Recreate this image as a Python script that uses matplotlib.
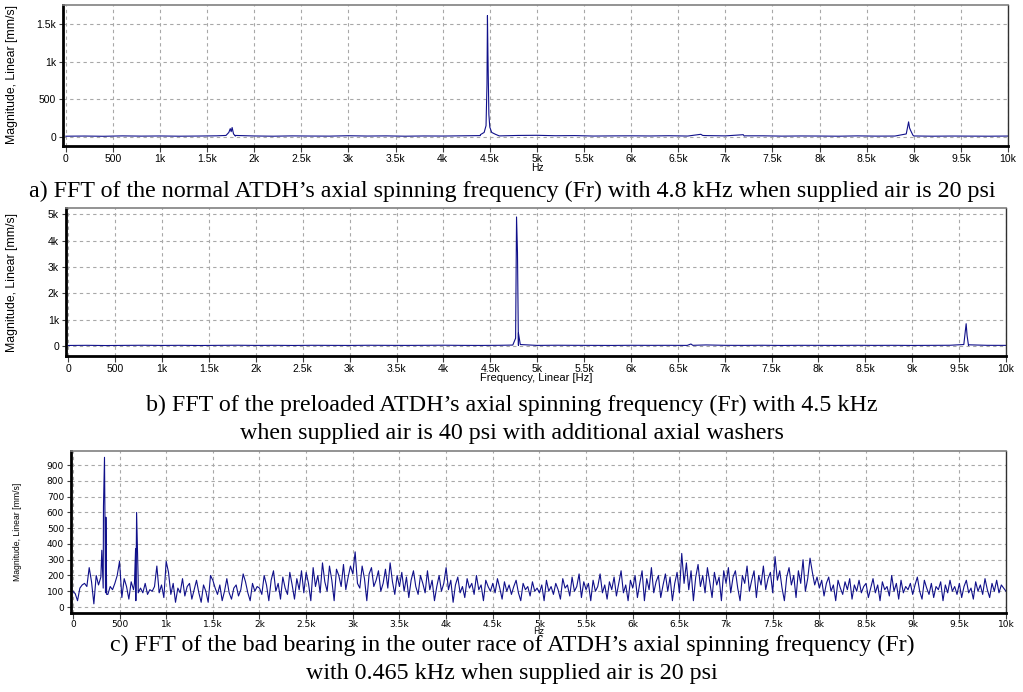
import matplotlib
matplotlib.use("Agg")
import matplotlib.pyplot as plt
import numpy as np

# ---- panel a: normal ATDH, 20 psi ----
a_base_f = list(range(0, 10001, 200))
a_base_m = [10, 12, 9, 14, 11, 13, 10, 12, 15, 11, 13, 10, 14, 12, 11, 16, 12, 14, 10, 13,
            12, 15, 18, 14, 20, 22, 16, 18, 12, 14, 15, 13, 16, 12, 18, 14, 12, 15, 11, 13,
            12, 10, 14, 11, 12, 13, 10, 12, 11, 10, 12]
a_peak_f = [1700, 1730, 1745, 1755, 1765, 1780, 1800,
            4400, 4440, 4460, 4470, 4475, 4480, 4490, 4500, 4520, 4560,
            6740, 6760, 7190, 7210, 8920, 8945, 8955, 8965, 8990]
a_peak_m = [20, 60, 110, 70, 125, 40, 20,
            30, 60, 150, 700, 1610, 1110, 300, 130, 60, 35,
            35, 20, 30, 15, 40, 200, 120, 90, 25]

# ---- panel b: preloaded ATDH, 40 psi ----
b_base_f = list(range(0, 10001, 200))
b_base_m = [25, 30, 22, 28, 32, 26, 30, 24, 29, 33, 27, 30, 25, 31, 28, 26, 32, 29, 27, 30,
            34, 28, 26, 31, 29, 27, 33, 30, 28, 26, 31, 29, 30, 27, 45, 30, 28, 32, 26, 30,
            29, 27, 31, 28, 30, 26, 29, 32, 27, 30, 28]
b_peak_f = [4740, 4770, 4780, 4790, 4800, 4820, 6640, 6660, 9550, 9575, 9585, 9600]
b_peak_m = [40, 300, 4900, 3550, 500, 60, 80, 30, 60, 850, 400, 50]

# ---- panel c: bad bearing (outer race), 20 psi ----
c_step = 25
c_noise = [
    100, 85, 40, 120, 140, 150, 130, 250, 160, 20, 200, 140, 190, 120, 90, 80, 130, 110, 150, 200,
    290, 60, 180, 130, 50, 160, 110, 40, 170, 120, 90, 150, 80, 110, 100, 130, 260, 90, 140, 60,
    290, 220, 80, 150, 30, 120, 90, 180, 70, 130, 150, 50, 110, 170, 90, 30, 140, 100, 30, 200,
    170, 120, 80, 140, 40, 100, 180, 90, 50, 120, 140, 70, 110, 210, 160, 90, 40, 150, 100, 130,
    120, 80, 200, 140, 40, 170, 230, 100, 150, 50, 190, 120, 80, 220, 140, 50, 180, 110, 230, 90,
    220, 150, 40, 250, 130, 200, 90, 280, 160, 100, 260, 170, 40, 240, 200, 130, 270, 110, 190, 260,
    210, 350, 150, 120, 260, 180, 40, 210, 250, 130, 170, 230, 100, 150, 240, 120, 280, 160, 80, 200,
    130, 220, 100, 190, 60, 170, 230, 130, 80, 200, 150, 90, 230, 110, 170, 40, 130, 200, 100, 150,
    250, 110, 170, 30, 140, 190, 90, 130, 60, 180, 120, 150, 80, 200, 110, 140, 40, 170, 130, 100,
    150, 90, 180, 120, 50, 160, 100, 140, 80, 130, 170, 90, 40, 150, 110, 130, 70, 160, 100, 120,
    90, 140, 40, 170, 100, 130, 80, 150, 110, 50, 180, 120, 140, 70, 190, 100, 130, 210, 60, 160,
    110, 150, 40, 170, 100, 130, 210, 90, 140, 50, 160, 110, 190, 70, 150, 230, 90, 140, 40, 170,
    120, 200, 60, 150, 230, 40, 180, 110, 250, 90, 160, 200, 60, 140, 210, 100, 190, 40, 150, 220,
    90, 340, 150, 280, 110, 230, 40, 190, 270, 130, 200, 90, 250, 160, 60, 220, 140, 190, 40, 230,
    150, 250, 90, 190, 230, 120, 40, 200, 150, 260, 100, 170, 230, 60, 200, 140, 260, 110, 180, 220,
    90, 320, 170, 230, 120, 40, 190, 250, 140, 200, 60, 230, 150, 300, 100, 180, 310, 220, 140, 190,
    120, 170, 70, 150, 190, 100, 140, 40, 170, 120, 80, 160, 110, 180, 50, 140, 100, 170, 90, 130,
    150, 60, 120, 180, 90, 140, 40, 160, 110, 130, 70, 200, 100, 150, 50, 170, 90, 130, 110, 150,
    80, 140, 190, 100, 50, 170, 120, 80, 150, 60, 130, 110, 160, 40, 140, 90, 170, 100, 130, 80,
    150, 60, 130, 170, 90, 120, 50, 160, 100, 140, 80, 180, 110, 60, 150, 100, 170, 90, 140, 120,
    100]
c_peak_f = [310, 328, 339, 354, 362, 660, 672, 683, 690, 700]
c_peak_m = [360, 640, 950, 570, 80, 150, 370, 600, 410, 90]

x_ticks = list(range(0, 10001, 500))
x_labels = ['0', '500', '1k', '1.5k', '2k', '2.5k', '3k', '3.5k', '4k', '4.5k', '5k',
            '5.5k', '6k', '6.5k', '7k', '7.5k', '8k', '8.5k', '9k', '9.5k', '10k']


def merge(bf, bm, pf, pm):
    f = np.array(list(bf) + list(pf), dtype=float)
    m = np.array(list(bm) + list(pm), dtype=float)
    o = np.argsort(f, kind='stable')
    return f[o], m[o]


def style(ax, yt, yl, xmin, ylim, tfont, tsize, xpad=2):
    ax.set_xlim(xmin, 10000)
    ax.set_ylim(*ylim)
    ax.set_xticks(x_ticks)
    ax.set_xticklabels(x_labels, fontsize=tsize, family=tfont)
    ax.set_yticks(yt)
    ax.set_yticklabels(yl, fontsize=tsize, family=tfont)
    ax.grid(True, color='#a8a8a8', linestyle=(0, (3, 3)), linewidth=0.8)
    ax.tick_params(axis='x', direction='out', length=4, width=0.8, pad=xpad, color='#404040')
    ax.tick_params(axis='y', direction='out', length=3, width=0.8, pad=2, color='#404040')
    ax.spines['left'].set_linewidth(2.0)
    ax.spines['bottom'].set_linewidth(2.0)
    ax.spines['left'].set_color('black')
    ax.spines['bottom'].set_color('black')
    ax.spines['top'].set_color('#808080')
    ax.spines['top'].set_linewidth(1.2)
    ax.spines['right'].set_color('#303030')
    ax.spines['right'].set_linewidth(1.0)


fig = plt.figure(figsize=(10.23, 6.92), dpi=100)
W, H = 1023.0, 692.0
line_c = '#10108a'
cap_size = 17.3

# panel a
ax1 = fig.add_axes([63 / W, 1 - 146 / H, 945 / W, 141 / H])
fa, ma = merge(a_base_f, a_base_m, a_peak_f, a_peak_m)
ax1.plot(fa, ma, color=line_c, linewidth=0.8)
style(ax1, [0, 500, 1000, 1500], ['0', '500', '1k', '1.5k'], -30, (-120, 1750),
      'Liberation Sans', 7.5)
fig.text(12 / W, 1 - 75 / H, 'Magnitude, Linear [mm/s]', rotation=90, ha='center', va='center',
         fontsize=8.8, family='Liberation Sans')
fig.text(537 / W, 1 - 168 / H, 'Hz', ha='center', va='center', fontsize=7.5, family='Liberation Sans')
fig.text(512 / W, 1 - 197 / H,
         'a) FFT of the normal ATDH\u2019s axial spinning frequency (Fr) with 4.8 kHz when supplied air is 20 psi',
         ha='center', va='baseline', fontsize=cap_size, family='Liberation Serif')

# panel b
ax2 = fig.add_axes([66 / W, 1 - 356 / H, 940 / W, 148 / H])
fb, mb = merge(b_base_f, b_base_m, b_peak_f, b_peak_m)
ax2.plot(fb, mb, color=line_c, linewidth=0.8)
style(ax2, [0, 1000, 2000, 3000, 4000, 5000], ['0', '1k', '2k', '3k', '4k', '5k'], -25,
      (-375, 5240), 'Liberation Sans', 7.5)
fig.text(12 / W, 1 - 282 / H, 'Magnitude, Linear [mm/s]', rotation=90, ha='center', va='center',
         fontsize=8.8, family='Liberation Sans')
fig.text(536 / W, 1 - 378 / H, 'Frequency, Linear [Hz]', ha='center', va='center', fontsize=8,
         family='Liberation Sans')
fig.text(512 / W, 1 - 411.5 / H,
         'b) FFT of the preloaded ATDH\u2019s axial spinning frequency (Fr) with 4.5 kHz',
         ha='center', va='baseline', fontsize=cap_size, family='Liberation Serif')
fig.text(512 / W, 1 - 439 / H, 'when supplied air is 40 psi with additional axial washers',
         ha='center', va='baseline', fontsize=cap_size, family='Liberation Serif')

# panel c
ax3 = fig.add_axes([71 / W, 1 - 613 / H, 935 / W, 162 / H])
c_base_f = [i * c_step for i in range(len(c_noise))]
fc, mc = merge(c_base_f, c_noise, c_peak_f, c_peak_m)
ax3.plot(fc, mc, color=line_c, linewidth=0.8)
style(ax3, list(range(0, 901, 100)), [str(v) for v in range(0, 901, 100)], -20, (-38, 990),
      'DejaVu Sans', 6.5, xpad=1)
fig.text(18 / W, 1 - 532 / H, 'Magnitude, Linear [mm/s]', rotation=90, ha='center', va='center',
         fontsize=6.2, family='Liberation Sans')
fig.text(538 / W, 1 - 632 / H, 'Hz', ha='center', va='center', fontsize=6, family='DejaVu Sans')
fig.text(512 / W, 1 - 651 / H,
         'c) FFT of the bad bearing in the outer race of ATDH\u2019s axial spinning frequency (Fr)',
         ha='center', va='baseline', fontsize=cap_size, family='Liberation Serif')
fig.text(512 / W, 1 - 679 / H, 'with 0.465 kHz when supplied air is 20 psi',
         ha='center', va='baseline', fontsize=cap_size, family='Liberation Serif')

fig.savefig('out.png', dpi=100)
